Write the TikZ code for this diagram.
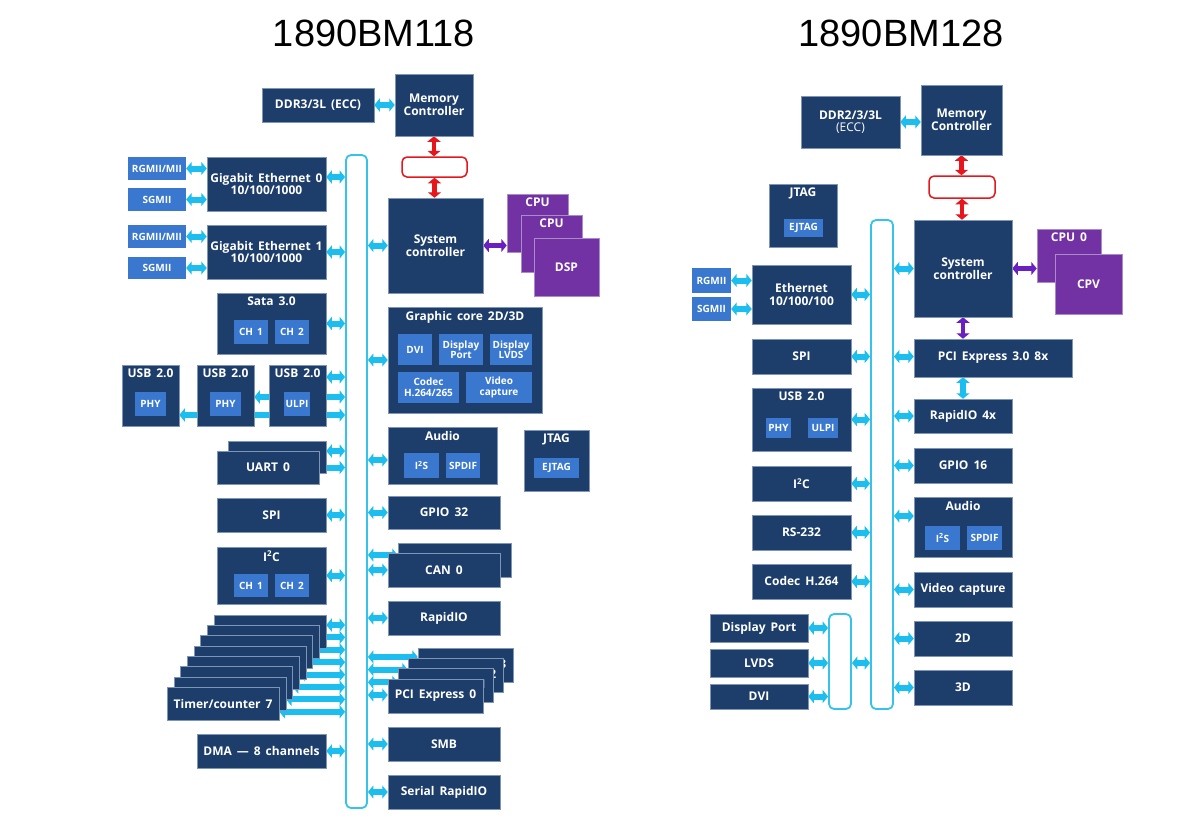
\documentclass[tikz,border=0pt]{standalone}
\usepackage{fontspec}
\setmainfont{Open Sans}[WordSpace=1.6]
\newfontfamily\titlefont{Liberation Sans}
\usetikzlibrary{arrows.meta,backgrounds}
\definecolor{boxblue}{HTML}{1D3D6B}
\definecolor{boxedge}{HTML}{7F95B5}
\definecolor{subblue}{HTML}{3A78CF}
\definecolor{chippurple}{HTML}{7232A3}
\definecolor{chipedge}{HTML}{A98BC8}
\definecolor{linkcyan}{HTML}{1CBDEF}
\definecolor{buscyan}{HTML}{35C3EC}
\definecolor{linkred}{HTML}{E5161C}
\definecolor{linkpurple}{HTML}{6A1FC0}
% block from its corners: \blk[style]{name}{x1}{y1}{x2}{y2} {text};
\newcommand\blk[6][blk]{\node[#1, minimum width={#5-#3}, minimum height={#6-#4}] (#2) at ({(#3+#5)/2},{(#4+#6)/2})}
\tikzset{
  blk/.style={draw=boxedge, line width=0.5pt, fill=boxblue, text=white, align=center, inner sep=1pt,
    font=\bfseries\fontsize{12}{12.5}\selectfont},
  sub/.style={fill=subblue, text=white, align=center, inner sep=1pt,
    font=\bfseries\fontsize{10}{10.5}\selectfont},
  chip/.style={blk, fill=chippurple, draw=chipedge},
  head/.style={label={[anchor=north, yshift=-2pt, text=white, inner sep=2pt,
    font=\bfseries\fontsize{12}{12.5}\selectfont]north:#1}},
  busbar/.style={draw=buscyan, line width=1.8pt, rounded corners=5pt, fill=white, inner sep=0pt},
  redbox/.style={draw=linkred, line width=1.5pt, rounded corners=5pt, fill=white, inner sep=0pt},
  link/.style={draw=linkcyan, line width=6pt, {Triangle[width=13pt,length=5.5pt]}-{Triangle[width=13pt,length=5.5pt]}},
  redlink/.style={link, draw=linkred, line width=4.5pt},
  purplelink/.style={link, draw=linkpurple, line width=4.5pt},
}
\begin{document}
\begin{tikzpicture}[x=1pt,y=-1pt]
\useasboundingbox (0,0) rectangle (1200,823);
\node[font=\titlefont\fontsize{38}{40}\selectfont] (title1) at (374,33) {1890BM118};
\node[font=\titlefont\fontsize{38}{40}\selectfont] (title2) at (901,33) {1890BM128};

% ---- 1890BM118 ----
\blk[busbar]{bus1}{346}{155}{367}{808} {};
\blk{ddr1}{262}{88}{374}{122} {DDR3/3L (ECC)};
\blk{mem1}{395}{74}{473}{136} {Memory\\Controller};
\blk[redbox]{red1}{402}{157}{467}{177} {};
\blk{sys1}{388}{198}{483}{293} {System\\controller};
\blk[chip, head=CPU]{cpu1a}{507}{194}{568}{252} {};
\blk[chip, head=CPU]{cpu1b}{521}{215}{582}{272} {};
\blk[chip]{dsp1}{534}{238}{599}{296} {DSP};
\blk[blk, head=Graphic core 2D/3D]{gfx1}{388}{307}{542}{413} {};
\blk[sub]{dvi1}{398}{334}{432}{365} {DVI};
\blk[sub]{dp1}{439}{334}{483}{365} {Display\\Port};
\blk[sub]{lvds1}{490}{334}{532}{365} {Display\\LVDS};
\blk[sub]{codec1}{398}{372}{459}{403} {Codec\\H.264/265};
\blk[sub]{vcap1}{466}{372}{532}{403} {Video\\capture};
\blk[blk, head=Audio]{audio1}{388}{427}{497}{484} {};
\blk[sub]{i2s1}{404}{453}{439}{478} {I\textsuperscript{2}S};
\blk[sub]{spdif1}{446}{453}{480}{478} {SPDIF};
\blk[blk, head=JTAG]{jtag1}{524}{430}{589}{491} {};
\blk[sub]{ejtag1}{534}{458}{579}{478} {EJTAG};
\blk{gpio1}{388}{496}{500}{529} {GPIO 32};
\blk{canb1}{398}{543}{511}{577} {};
\blk{can1}{388}{553}{500}{587} {CAN 0};
\blk{rio1}{388}{601}{500}{635} {RapidIO};
\foreach \i in {3,2,1,0}
  \node[blk, minimum width=95, minimum height=34] (pci\i) at ({435.5+10*\i},{696-10.3*\i}) {PCI Express \i};
\blk{smb1}{388}{727}{500}{761} {SMB};
\blk{srio1}{388}{775}{500}{809} {Serial RapidIO};

\blk[sub]{rg0}{128}{157}{186}{180} {RGMII/MII};
\blk[sub]{sg0}{128}{188}{186}{211} {SGMII};
\blk{ge0}{207}{157}{326}{211} {Gigabit Ethernet 0\\10/100/1000};
\blk[sub]{rg1}{128}{225}{186}{248} {RGMII/MII};
\blk[sub]{sg1}{128}{257}{186}{279} {SGMII};
\blk{ge1}{207}{225}{326}{279} {Gigabit Ethernet 1\\10/100/1000};
\blk[blk, head=Sata 3.0]{sata1}{217}{293}{326}{354} {};
\blk[sub]{sch1}{234}{320}{268}{344} {CH 1};
\blk[sub]{sch2}{275}{320}{309}{344} {CH 2};
\blk[blk, head=USB 2.0]{usba}{122}{365}{179}{426} {};
\blk[sub]{phya}{135}{392}{166}{416} {PHY};
\blk[blk, head=USB 2.0]{usbb}{197}{365}{254}{426} {};
\blk[sub]{phyb}{210}{392}{241}{416} {PHY};
\blk[blk, head=USB 2.0]{usbc}{269}{365}{326}{426} {};
\blk[sub]{ulpic}{284}{392}{310}{416} {ULPI};
\blk{uartb}{228}{441}{326}{473} {};
\blk{uart1}{217}{451}{319}{484} {UART 0};
\blk{spi1}{217}{498}{326}{532} {SPI};
\blk[blk, head=I\textsuperscript{2}C]{i2c1}{217}{547}{326}{604} {};
\blk[sub]{ich1}{234}{574}{268}{597} {CH 1};
\blk[sub]{ich2}{275}{574}{309}{597} {CH 2};
\foreach \i in {0,...,6}
  \node[blk, minimum width=112, minimum height=33] (tmr\i) at ({270-6.7*\i},{631.5+10.3*\i}) {};
\node[blk, minimum width=112, minimum height=33] (tmr7) at ({270-6.7*7},{631.5+10.3*7}) {Timer/counter 7};
\blk{dma1}{197}{734}{326}{768} {DMA — 8 channels};

% ---- 1890BM128 ----
\blk[busbar]{bus2}{871}{220}{893}{709} {};
\blk[busbar]{sbus2}{829}{614}{851}{709} {};
\blk{ddr2}{801}{96}{900}{148} {DDR2/3/3L\\{\mdseries (ECC)}};
\blk{mem2}{921}{85}{1002}{155} {Memory\\Controller};
\blk[redbox]{red2}{929}{176}{995}{198} {};
\blk{sys2}{914}{220}{1012}{317} {System\\controller};
\blk[chip, head=CPU 0]{cpu2a}{1037}{229}{1101}{282} {};
\blk[chip]{cpv2}{1055}{254}{1122}{314} {CPV};
\blk{pcie2}{914}{339}{1072}{377} {PCI Express 3.0 8x};
\blk[blk, head=JTAG]{jtag2}{769}{184}{837}{247} {};
\blk[sub]{ejtag2}{784}{219}{823}{237} {EJTAG};
\blk[sub]{rg2}{692}{268}{731}{293} {RGMII};
\blk[sub]{sg2}{692}{297}{731}{321} {SGMII};
\blk{eth2}{752}{265}{851}{324} {Ethernet\\10/100/100};
\blk{spi2}{752}{339}{851}{374} {SPI};
\blk[blk, head=USB 2.0]{usb2}{752}{388}{851}{451} {};
\blk[sub]{phy2}{766}{418}{791}{438} {PHY};
\blk[sub]{ulpi2}{808}{418}{838}{438} {ULPI};
\blk{rio2}{914}{399}{1012}{433} {RapidIO 4x};
\blk{i2c2}{752}{466}{851}{501} {I\textsuperscript{2}C};
\blk{gpio2}{914}{448}{1012}{483} {GPIO 16};
\blk{rs2}{752}{515}{851}{550} {RS-232};
\blk[blk, head=Audio]{audio2}{914}{497}{1012}{557} {};
\blk[sub]{i2s2}{925}{526}{960}{550} {I\textsuperscript{2}S};
\blk[sub]{spdif2}{967}{526}{1002}{550} {SPDIF};
\blk{codec2}{752}{564}{851}{599} {Codec H.264};
\blk{vcap2}{914}{572}{1012}{607} {Video capture};
\blk{d2}{914}{621}{1012}{656} {2D};
\blk{d3}{914}{670}{1012}{705} {3D};
\blk{dport2}{710}{614}{808}{642} {Display Port};
\blk{lvds2}{710}{649}{808}{677} {LVDS};
\blk{dvi2}{710}{684}{808}{709} {DVI};

\begin{pgfonlayer}{background}
  % 1890BM118 links
  \draw[link] (ddr1.east) -- (ddr1.east -| mem1.west);
  \draw[redlink] (mem1.south) -- (mem1.south |- red1.north);
  \draw[redlink] (red1.south) -- (red1.south |- sys1.north);
  \draw[purplelink] (sys1.east) -- (sys1.east -| cpu1a.west);
  \draw[link] (rg0.east) -- (rg0.east -| ge0.west);
  \draw[link] (sg0.east) -- (sg0.east -| ge0.west);
  \draw[link] (rg1.east) -- (rg1.east -| ge1.west);
  \draw[link] (sg1.east) -- (sg1.east -| ge1.west);
  \coordinate (g0) at ([yshift=7pt]ge0.east);
  \draw[link] (g0) -- (g0 -| bus1.west);
  \foreach \n in {ge1,sata1,spi1,i2c1,dma1}
    \draw[link] (\n.east) -- (\n.east -| bus1.west);
  \coordinate (uc) at ([yshift=18.5pt]usbc.east);
  \draw[link] (uc) -- (uc -| bus1.west);
  \coordinate (ub) at ([yshift=-1.5pt]usbb.east);
  \draw[link] (ub) -- (ub -| bus1.west);
  \coordinate (ua) at ([yshift=-19.5pt]usba.east);
  \draw[link] (ua) -- (ua -| bus1.west);
  \coordinate (ut) at ([yshift=6pt]uartb.east);
  \draw[link] (ut) -- (ut -| bus1.west);
  \draw[link] (uart1.east) -- (uart1.east -| bus1.west);
  \foreach \i in {0,...,7} {
    \coordinate (tm) at ([yshift={6.5-2.1*\i}]tmr\i.east);
    \draw[link] (tm) -- (tm -| bus1.west);
  }
  \foreach \n in {sys1,gfx1,gpio1,can1,rio1,smb1,srio1}
    \draw[link] (\n.west -| bus1.east) -- (\n.west);
  \coordinate (au) at ([yshift=-4.5pt]audio1.west);
  \draw[link] (au -| bus1.east) -- (au);
  \coordinate (cb) at ([yshift=5pt]canb1.west);
  \draw[link] (cb -| bus1.east) -- (cb);
  \foreach \i in {0,...,3} {
    \coordinate (pc) at ([yshift={1+2.4*\i}]pci\i.west);
    \draw[link] (pc -| bus1.east) -- (pc);
  }
  % 1890BM128 links
  \draw[link] (ddr2.east) -- (ddr2.east -| mem2.west);
  \draw[redlink] (mem2.south) -- (mem2.south |- red2.north);
  \draw[redlink] (red2.south) -- (red2.south |- sys2.north);
  \draw[purplelink] (sys2.east) -- (sys2.east -| cpu2a.west);
  \draw[purplelink] (sys2.south) -- (sys2.south |- pcie2.north);
  \draw[link] (rio2.north |- pcie2.south) -- (rio2.north);
  \draw[link] (rg2.east) -- (rg2.east -| eth2.west);
  \draw[link] (sg2.east) -- (sg2.east -| eth2.west);
  \foreach \n in {eth2,spi2,usb2,i2c2,rs2,codec2}
    \draw[link] (\n.east) -- (\n.east -| bus2.west);
  \foreach \n in {sys2,rio2,gpio2,vcap2,d2,d3}
    \draw[link] (\n.west -| bus2.east) -- (\n.west);
  \draw[link] (spi2.east -| bus2.east) -- (spi2.east -| pcie2.west);
  \coordinate (a2) at ([yshift=11pt]audio2.west);
  \draw[link] (a2 -| bus2.east) -- (a2);
  \foreach \n in {dport2,lvds2,dvi2}
    \draw[link] (\n.east) -- (\n.east -| sbus2.west);
  \draw[link] (lvds2.east -| sbus2.east) -- (lvds2.east -| bus2.west);
\end{pgfonlayer}
\end{tikzpicture}
\end{document}
